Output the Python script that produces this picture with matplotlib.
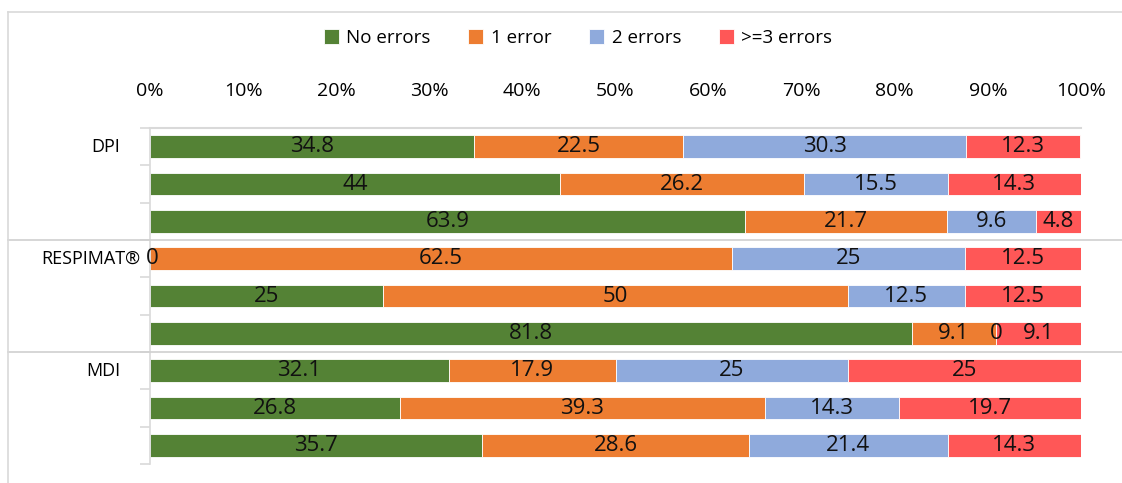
import matplotlib.pyplot as plt
import numpy as np
from matplotlib.lines import Line2D

# stacked shares (%) per row, top to bottom
no_errors  = [34.8, 44.0, 63.9, 0.0, 25.0, 81.8, 32.1, 26.8, 35.7]
one_error  = [22.5, 26.2, 21.7, 62.5, 50.0, 9.1, 17.9, 39.3, 28.6]
two_errors = [30.3, 15.5, 9.6, 25.0, 12.5, 0.0, 25.0, 14.3, 21.4]
three_plus = [12.3, 14.3, 4.8, 12.5, 12.5, 9.1, 25.0, 19.7, 14.3]
groups = ['DPI', 'RESPIMAT®', 'MDI']
series_names = ['No errors', '1 error', '2 errors', '>=3 errors']
colors = ['#548235', '#ED7D31', '#8FAADC', '#FF5757']
xticks = [0, 10, 20, 30, 40, 50, 60, 70, 80, 90, 100]

plt.rcParams['font.family'] = ['Open Sans', 'DejaVu Sans']

fig = plt.figure(figsize=(11.22, 4.83), dpi=100)
ax = fig.add_axes([150/1122, 1-464/483, 931/1122, (464-128)/483])

data = [no_errors, one_error, two_errors, three_plus]
y = np.arange(len(no_errors))
left = np.zeros(len(no_errors))
for vals, c, name in zip(data, colors, series_names):
    vals = np.array(vals)
    ax.barh(y, vals, left=left, height=0.6, color=c, label=name,
            edgecolor='white', linewidth=0.6)
    for yi, (l, v) in enumerate(zip(left, vals)):
        xc = l + v/2
        if v == 0 and l == 0:
            xc = 0.2
        ax.text(xc, yi, f'{v:g}', ha='center', va='center', fontsize=16, color='#111111')
    left += vals

ax.set_xlim(0, 100)
ax.set_ylim(8.5, -0.5)
ax.xaxis.tick_top()
ax.set_xticks(xticks)
ax.set_xticklabels([f'{t}%' for t in xticks], fontsize=14)
ax.tick_params(axis='x', length=0, pad=20)
ax.set_yticks([])
ax.set_yticks(np.arange(-0.5, 9, 1), minor=True)
ax.tick_params(axis='y', which='minor', length=7, color='#d9d9d9', width=1.2)
for s in ['right', 'bottom']:
    ax.spines[s].set_visible(False)
ax.spines['left'].set_color('#d9d9d9')
ax.spines['top'].set_color('#d9d9d9')
ax.spines['left'].set_linewidth(1.2)
ax.spines['top'].set_linewidth(1.5)

# group labels
for g, row, xpos in zip(groups, [0, 3, 6], [120, 140, 120]):
    ax.text(xpos/1122, 1 - (147 + row*37.3)/483, g, transform=fig.transFigure,
            ha='right', va='center', fontsize=13)

# group separators across the frame
for yy in [2.5, 5.5]:
    yf = fig.transFigure.inverted().transform(ax.transData.transform((0, yy)))[1]
    fig.add_artist(Line2D([8/1122, 1], [yf, yf], color='#d0d0d0', lw=1.2))

# outer frame
fig.add_artist(Line2D([8/1122, 8/1122], [0, 1-12/483], color='#d9d9d9', lw=1.2))
fig.add_artist(Line2D([8/1122, 1], [1-12/483, 1-12/483], color='#d9d9d9', lw=1.2))

fig.legend(loc='center', bbox_to_anchor=(578/1122, 1-38/483), ncol=4, frameon=False,
           fontsize=13.5, handlelength=0.8, handleheight=0.8, handletextpad=0.4,
           columnspacing=2.0)

fig.savefig('out.png', dpi=100)
